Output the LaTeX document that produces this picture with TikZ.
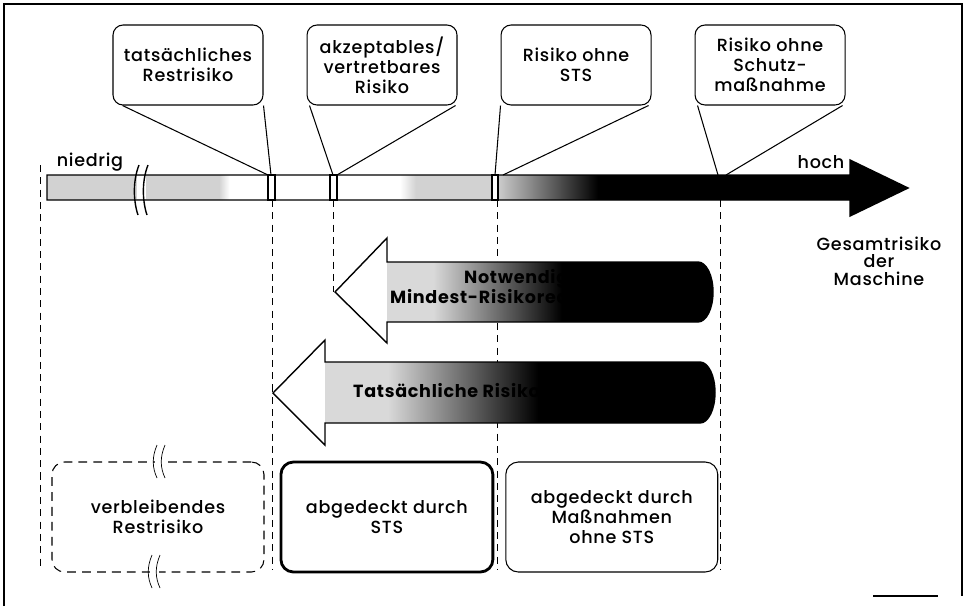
\documentclass[tikz,border=0pt]{standalone}
\usepackage{fontspec}
\setmainfont{Poppins}[UprightFont=* Medium, BoldFont=* Bold, LetterSpace=4]
\usetikzlibrary{positioning}

\newcommand\notefont{\fontsize{10}{11.4}\selectfont}

% grey-to-black fills of the scale and of the reduction arrows
\pgfdeclarehorizontalshading{barshade}{100bp}{color(0bp)=(gray!35); color(35bp)=(gray!35); color(35.6bp)=(white); color(45.5bp)=(white); color(46.4bp)=(gray!35); color(51bp)=(gray!35); color(57bp)=(black); color(100bp)=(black)}
\pgfdeclarehorizontalshading{reduceshade}{100bp}{color(0bp)=(gray!30); color(38bp)=(gray!30); color(55bp)=(black); color(100bp)=(black)}

\tikzset{
    % outer frame
    frame/.style={
        line width=1.1pt
    },
    % callout boxes above the scale
    notebox/.style={
        rectangle,
        rounded corners=0.2cm,
        draw=black,
        fill=white,
        semithick,
        minimum width=3cm,
        minimum height=1.6cm,
        align=center,
        font=\notefont
    },
    pointer/.style={
        semithick
    },
    guide/.style={
        thin,
        dash pattern=on 4pt off 3pt
    },
    reduce/.style={
        thick,
        fill=white
    },
    reducelabel/.style={
        align=center,
        font=\notefont\bfseries
    },
    % boxes below the reduction arrows
    restbox/.style={
        rectangle,
        rounded corners=0.25cm,
        draw=black,
        semithick,
        dash pattern=on 5pt off 3.5pt,
        minimum width=4.24cm,
        minimum height=2.2cm,
        align=center,
        font=\notefont
    },
    stsbox/.style={
        rectangle,
        rounded corners=0.25cm,
        draw=black,
        line width=1.6pt,
        minimum width=4.24cm,
        minimum height=2.2cm,
        align=center,
        font=\notefont
    },
    coverbox/.style={
        rectangle,
        rounded corners=0.25cm,
        draw=black,
        semithick,
        minimum width=4.24cm,
        minimum height=2.2cm,
        align=center,
        font=\notefont
    },
    scalelabel/.style={
        font=\notefont,
        align=center
    }
}

\begin{document}
\begin{tikzpicture}[x=0.02cm, y=-0.02cm, node distance=0.86cm]
            \useasboundingbox (0,0) rectangle (966,606);

            % Frame
            \draw[frame] (4,606) -- (4,4) -- (962,4) -- (962,596);
            \draw[frame] (873,596) -- (938,596);

            % Dashed guide lines
            \draw[guide] (40,165) -- (40,570);
            \foreach \gx in {272,497,720}
                \draw[guide] (\gx,200) -- (\gx,570);
            \draw[guide] (333,200) -- (333,292);

            % Risk scale
            \shadedraw[shading=barshade, draw=black, thick] (47,175) -- (850,175) -- (850,160) -- (908,188) -- (850,216) -- (850,200) -- (47,200) -- cycle;
            \fill[white] (137,176) rectangle (146,199);
            \draw[thick] (139,165) .. controls (133,180) and (133,200) .. (138,215);
            \draw[thick] (148,165) .. controls (142,180) and (142,200) .. (147,215);
            \draw[thick, fill=white] (268,175) rectangle (275,200);
            \draw[thick, fill=white] (330,175) rectangle (337,200);
            \draw[thick, fill=white] (492,175) rectangle (498,200);

            \node[scalelabel] (low) at (90,162) {niedrig};
            \node[scalelabel] (high) at (821,162) {hoch};
            \node[scalelabel, font=\fontsize{10}{10}\selectfont] (total) at (879,261) {Gesamtrisiko\\der\\Maschine};

            % Callouts
            \node[notebox] (rest) at (188,65) {tatsächliches\\Restrisiko};
            \node[notebox, right=of rest] (accept) {akzeptables/\\vertretbares\\Risiko};
            \node[notebox, right=of accept] (nosts) {Risiko ohne\\STS};
            \node[notebox, right=of nosts] (noprot) {Risiko ohne\\Schutz-\\maßnahme};

            \coordinate (restL) at (268,175);
            \coordinate (restR) at (271,175);
            \coordinate (acceptL) at (333,175);
            \coordinate (acceptR) at (337,175);
            \coordinate (nostsL) at (495,175);
            \coordinate (nostsR) at (503,175);
            \coordinate (noprotL) at (718,175);
            \coordinate (noprotR) at (726,175);

            \draw[pointer] ([xshift=0.2cm]rest.south west) -- (restL);
            \draw[pointer] (rest.south east) -- (restR);
            \draw[pointer] ([xshift=0.06cm]accept.south west) -- (acceptL);
            \draw[pointer] ([xshift=-0.04cm]accept.south east) -- (acceptR);
            \draw[pointer] (nosts.south west) -- (nostsL);
            \draw[pointer] ([xshift=-0.06cm]nosts.south east) -- (nostsR);
            \draw[pointer] ([xshift=0.06cm]noprot.south west) -- (noprotL);
            \draw[pointer] ([xshift=-0.06cm]noprot.south east) -- (noprotR);

            % Reduction arrows
            \draw[reduce, path picture={\shade[shading=reduceshade] (387,230) rectangle (713,350);}]
                (387,262) -- (698,262) arc[start angle=-90, end angle=90, x radius=15, y radius=30]
                -- (387,322) -- (387,343) -- (335,292) -- (387,238) -- cycle;
            \node[reducelabel] (needed) at (522,289) {Notwendige\\Mindest-Risikoreduzierung};

            \draw[reduce, path picture={\shade[shading=reduceshade] (325,330) rectangle (715,450);}]
                (325,362) -- (700,362) arc[start angle=-90, end angle=90, x radius=15, y radius=30.5]
                -- (325,423) -- (325,445) -- (273,393) -- (325,340) -- cycle;
            \node[reducelabel, anchor=west] (actual) at (347,393) {Tatsächliche Risikoreduzierung};

            % Coverage boxes
            \node[restbox] (remain) at (158,517) {verbleibendes\\Restrisiko};
            \node[stsbox, right=0.3cm of remain] (bysts) {abgedeckt durch\\STS};
            \node[coverbox, right=0.22cm of bysts] (bymeasures) {abgedeckt durch\\Maßnahmen\\ohne STS};

            % Breaks in the dashed box
            \fill[white] (155,459) rectangle (164,465);
            \draw (157,445) .. controls (152,457) and (152,467) .. (157,478);
            \draw (165,445) .. controls (160,457) and (160,467) .. (165,478);
            \fill[white] (150,569) rectangle (159,575);
            \draw (152,555) .. controls (147,567) and (147,577) .. (152,588);
            \draw (160,555) .. controls (155,567) and (155,577) .. (160,588);
        \end{tikzpicture}
\end{document}
